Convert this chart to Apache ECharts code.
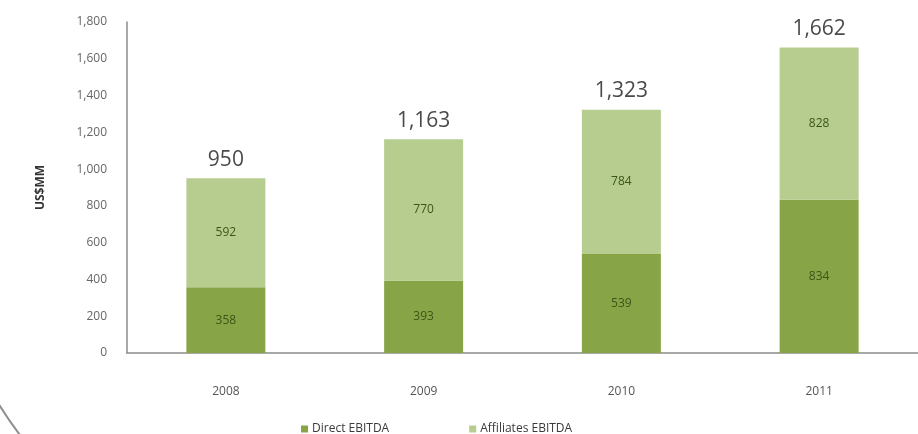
<!DOCTYPE html>
<html>
<head>
<meta charset="utf-8">
<script src="https://cdn.jsdelivr.net/npm/echarts@6/dist/echarts.min.js"></script>
<style>
  html, body { margin: 0; padding: 0; background: #ffffff; }
  #chart { width: 918px; height: 434px; }
</style>
</head>
<body>
<div id="chart"></div>
<script>
// EBITDA breakdown by year (US$MM)
const years = ['2008', '2009', '2010', '2011'];
const directEbitda = [358, 393, 539, 834];
const affiliatesEbitda = [592, 770, 784, 828];
const yTicks = [0, 200, 400, 600, 800, 1000, 1200, 1400, 1600, 1800];

const totals = years.map((_, i) => directEbitda[i] + affiliatesEbitda[i]);
const fmt = v => v.toLocaleString('en-US');
const FONT = '"Open Sans", "DejaVu Sans", sans-serif';

const chart = echarts.init(document.getElementById('chart'));

chart.setOption({
  animation: false,
  textStyle: { fontFamily: FONT },
  grid: { left: 127, top: 22, width: 800, height: 331, containLabel: false },
  legend: {
    data: ['Direct EBITDA', 'Affiliates EBITDA'],
    left: 296,
    top: 418,
    itemWidth: 7,
    itemHeight: 7,
    itemGap: 80,
    icon: 'rect',
    textStyle: { fontSize: 12, color: '#3a3a3a', fontFamily: FONT, padding: [0, 0, 0, -1] }
  },
  xAxis: {
    type: 'category',
    data: years,
    axisLine: { show: true, lineStyle: { color: '#8c8c8c', width: 1.5 } },
    axisTick: { show: false },
    axisLabel: { color: '#555', fontSize: 12, margin: 33, fontFamily: FONT }
  },
  yAxis: {
    type: 'value',
    min: yTicks[0],
    max: yTicks[yTicks.length - 1],
    interval: 200,
    name: 'US$MM',
    nameLocation: 'middle',
    nameRotate: 90,
    nameGap: 80,
    nameTextStyle: { fontSize: 12, fontWeight: 'bold', color: '#333', fontFamily: FONT },
    axisLine: { show: true, lineStyle: { color: '#8c8c8c', width: 1.5 } },
    axisTick: { show: false },
    splitLine: { show: false },
    axisLabel: { color: '#666', fontSize: 12, margin: 20, formatter: v => fmt(v), fontFamily: FONT }
  },
  series: [
    {
      name: 'Direct EBITDA',
      type: 'bar',
      stack: 'ebitda',
      barWidth: 79,
      data: directEbitda,
      itemStyle: { color: '#87a546' },
      label: { show: true, position: 'inside', color: '#3b5518', fontSize: 12, formatter: p => fmt(p.value) }
    },
    {
      name: 'Affiliates EBITDA',
      type: 'bar',
      stack: 'ebitda',
      barWidth: 79,
      data: affiliatesEbitda,
      itemStyle: { color: '#b6cd8f' },
      label: { show: true, position: 'inside', color: '#3b5518', fontSize: 12, formatter: p => fmt(p.value) }
    },
    {
      // zero-height cap that carries the total label above each stack
      name: 'Total',
      type: 'bar',
      stack: 'ebitda',
      barWidth: 79,
      data: years.map(() => 0),
      itemStyle: { color: 'transparent' },
      label: {
        show: true,
        position: 'top',
        distance: 8,
        color: '#4a4a4a',
        fontSize: 21,
        formatter: p => fmt(totals[p.dataIndex])
      }
    }
  ],
  graphic: [
    {
      type: 'arc',
      shape: { cx: 330, cy: 200, r: 389, startAngle: Math.PI * 0.62, endAngle: Math.PI * 0.9 },
      style: { stroke: '#8f8f8f', lineWidth: 2, fill: null },
      silent: true
    }
  ]
});
</script>
</body>
</html>
